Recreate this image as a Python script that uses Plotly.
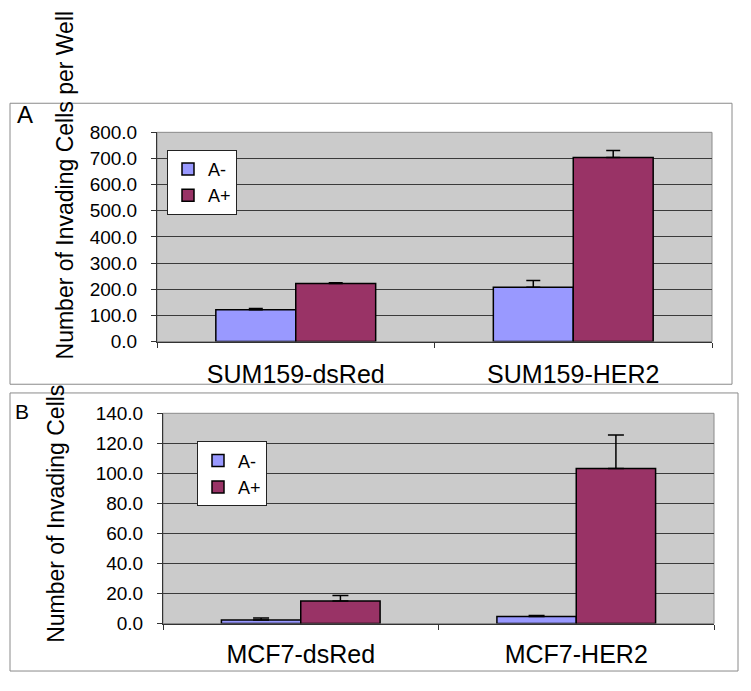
import plotly.graph_objects as go

VIEW_W, VIEW_H = 751, 691
OFF = 8  # default page body margin in the browser
W, H = VIEW_W - 2 * OFF, VIEW_H - 2 * OFF

# ---- data ----
cats_a = ["SUM159-dsRed", "SUM159-HER2"]
a_minus_a = [122, 208]
a_minus_a_err = [5, 26]
a_plus_a = [222, 704]
a_plus_a_err = [3, 27]

cats_b = ["MCF7-dsRed", "MCF7-HER2"]
a_minus_b = [2.4, 4.7]
a_minus_b_err = [1.3, 0.7]
a_plus_b = [15.0, 103.2]
a_plus_b_err = [3.7, 22.4]

series_names = ["A-", "A+"]
y_title = "Number of Invading Cells per Well"
y_title_b_visible = "Number of Invading Cells"

BLUE = "#9999FF"
PLUM = "#993366"
FONT = "Arial, Liberation Sans, sans-serif"


def px_x(p):
    return (p - OFF) / W


def px_y(p):
    return 1 - (p - OFF) / H


fig = go.Figure()


def add_bars(cats, vals, errs, name, color, xa, ya, legend, cap_w):
    fig.add_trace(go.Bar(
        x=cats, y=vals, name=name, xaxis=xa, yaxis=ya, legend=legend,
        marker=dict(color=color, line=dict(color="black", width=1.5)),
        error_y=dict(type="data", array=errs, arrayminus=[0] * len(errs),
                     symmetric=False, color="black", thickness=1.5,
                     width=cap_w),
    ))


add_bars(cats_a, a_minus_a, a_minus_a_err, series_names[0], BLUE, "x", "y", "legend", 7)
add_bars(cats_a, a_plus_a, a_plus_a_err, series_names[1], PLUM, "x", "y", "legend", 7)
add_bars(cats_b, a_minus_b, a_minus_b_err, series_names[0], BLUE, "x2", "y2", "legend2", 8)
add_bars(cats_b, a_plus_b, a_plus_b_err, series_names[1], PLUM, "x2", "y2", "legend2", 8)

axis_common_x = dict(
    showline=True, linecolor="#333333", linewidth=1,
    ticks="outside", ticklen=5, tickcolor="#333333", tickson="boundaries",
    tickfont=dict(family=FONT, size=25, color="black"),
    showgrid=False, fixedrange=True,
)
axis_common_y = dict(
    showline=True, linecolor="#333333", linewidth=1,
    ticks="outside", ticklen=5, tickcolor="#333333",
    tickfont=dict(family=FONT, size=19, color="black"),
    tickformat=".1f", showgrid=True, gridcolor="#3a3a3a", gridwidth=1,
    zeroline=False, fixedrange=True,
)

legend_common = dict(
    xanchor="left", yanchor="top",
    bgcolor="white", bordercolor="#222222", borderwidth=1,
    font=dict(family=FONT, size=18, color="black"),
    itemclick=False, itemdoubleclick=False, tracegroupgap=0,
)

fig.update_layout(
    width=W, height=H,
    margin=dict(l=0, r=0, t=0, b=0),
    paper_bgcolor="white",
    plot_bgcolor="#CBCBCB",
    barmode="group", bargap=0.424, bargroupgap=0,
    font=dict(family=FONT, color="black"),
    xaxis=dict(domain=[px_x(157), px_x(712)], anchor="y", ticklabelstandoff=10, **axis_common_x),
    yaxis=dict(domain=[px_y(342), px_y(126)], anchor="x", range=[0, 800], dtick=100,
               ticklabelstandoff=10, **axis_common_y),
    xaxis2=dict(domain=[px_x(163), px_x(714)], anchor="y2", ticklabelstandoff=8, **axis_common_x),
    yaxis2=dict(domain=[px_y(633), px_y(416)], anchor="x2", range=[0, 140], dtick=20,
                ticklabelstandoff=10, **axis_common_y),
    legend=dict(x=px_x(167), y=px_y(144), **legend_common),
    legend2=dict(x=px_x(197), y=px_y(445), **legend_common),
    showlegend=True,
)

# panel boxes
fig.add_shape(type="rect", xref="paper", yref="paper",
              x0=px_x(10), x1=px_x(732), y0=px_y(386), y1=px_y(96),
              line=dict(color="#8a8a8a", width=1), fillcolor="rgba(0,0,0,0)", layer="below")
fig.add_shape(type="rect", xref="paper", yref="paper",
              x0=px_x(10), x1=px_x(738), y0=px_y(682), y1=px_y(395),
              line=dict(color="#8a8a8a", width=1), fillcolor="rgba(0,0,0,0)", layer="below")
# plot-area borders (top/right)
fig.add_shape(type="rect", xref="x domain", yref="y domain", x0=0, x1=1, y0=0, y1=1,
              line=dict(color="#8a8a8a", width=1), layer="below")
fig.add_shape(type="rect", xref="x2 domain", yref="y2 domain", x0=0, x1=1, y0=0, y1=1,
              line=dict(color="#8a8a8a", width=1), layer="below")

# panel letters and y titles
fig.add_annotation(text="A", xref="paper", yref="paper", x=px_x(25), y=px_y(108),
                   xanchor="center", yanchor="middle", showarrow=False,
                   font=dict(family=FONT, size=24, color="black"))
fig.add_annotation(text="B", xref="paper", yref="paper", x=px_x(22), y=px_y(414),
                   xanchor="center", yanchor="middle", showarrow=False,
                   font=dict(family=FONT, size=21, color="black"))
fig.add_annotation(text=y_title, xref="paper", yref="paper", x=px_x(65), y=px_y(363),
                   xanchor="center", yanchor="bottom", textangle=-90, showarrow=False,
                   font=dict(family=FONT, size=23, color="black"))
fig.add_annotation(text=y_title_b_visible, xref="paper", yref="paper", x=px_x(56), y=px_y(655),
                   xanchor="center", yanchor="bottom", textangle=-90, showarrow=False,
                   font=dict(family=FONT, size=23, color="black"))

fig.write_html("out.html")
